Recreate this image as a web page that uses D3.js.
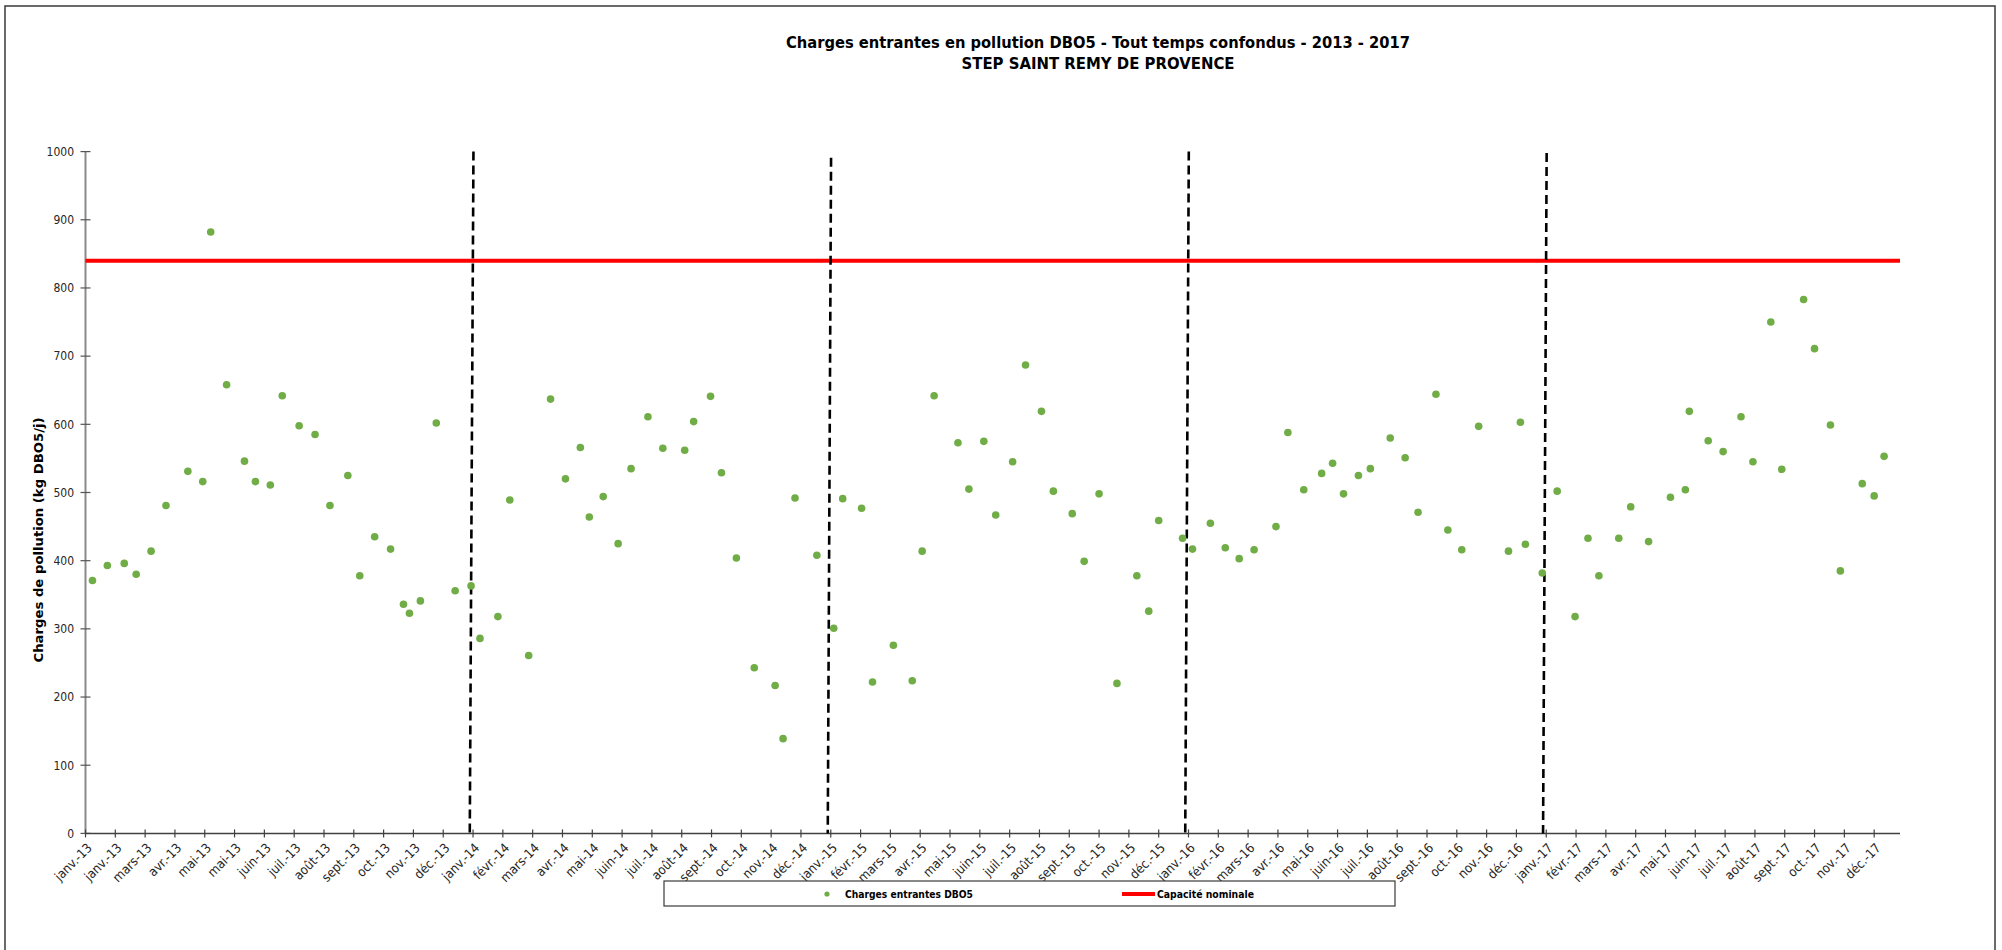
<!DOCTYPE html>
<html>
<head>
<meta charset="utf-8">
<script src="https://cdn.jsdelivr.net/npm/d3@7"></script>
<style>
  html, body { margin: 0; padding: 0; background: #fff; }
  svg { display: block; }
  text { font-family: "DejaVu Sans Condensed", "DejaVu Sans", sans-serif; }
</style>
</head>
<body>
<svg id="chart" width="2002" height="950"></svg>
<script>
// ---------------- DATA ----------------
const titleLines = [
  "Charges entrantes en pollution DBO5 - Tout temps confondus - 2013 - 2017",
  "STEP SAINT REMY DE PROVENCE"
];
const yAxisTitle = "Charges de pollution  (kg DBO5/j)";
const seriesName = "Charges entrantes DBO5";
const capacityName = "Capacité nominale";

const sampleDates = [
  "2013-01-08","2013-01-23","2013-02-09","2013-02-21","2013-03-08","2013-03-23","2013-04-14","2013-04-29",
  "2013-05-07","2013-05-23","2013-06-10","2013-06-21","2013-07-06","2013-07-18","2013-08-04","2013-08-20",
  "2013-09-04","2013-09-22","2013-10-04","2013-10-19","2013-11-04","2013-11-17","2013-11-23","2013-12-04",
  "2013-12-20","2014-01-08","2014-01-24",
  "2014-02-02","2014-02-20","2014-03-04","2014-03-23","2014-04-14","2014-04-29","2014-05-14","2014-05-23",
  "2014-06-06","2014-06-21","2014-07-04","2014-07-21","2014-08-05","2014-08-27","2014-09-05","2014-09-22",
  "2014-10-03","2014-10-18","2014-11-05","2014-11-26","2014-12-04","2014-12-16","2015-01-07","2015-01-24",
  "2015-02-02",
  "2015-02-21","2015-03-04","2015-03-25","2015-04-13","2015-04-23","2015-05-05","2015-05-29","2015-06-09",
  "2015-06-24","2015-07-06","2015-07-23","2015-08-05","2015-08-21","2015-09-02","2015-09-21","2015-10-03",
  "2015-10-18","2015-11-05","2015-11-25","2015-12-07","2015-12-17","2016-01-10","2016-01-20","2016-02-07",
  "2016-02-22","2016-03-07","2016-03-22","2016-04-13","2016-04-25","2016-05-11","2016-05-29","2016-06-09",
  "2016-06-20","2016-07-05","2016-07-17","2016-08-06","2016-08-21","2016-09-03","2016-09-21","2016-10-03",
  "2016-10-17","2016-11-03","2016-12-03","2016-12-15","2016-12-20","2017-01-06","2017-01-21","2017-02-08",
  "2017-02-21","2017-03-04","2017-03-24","2017-04-05","2017-04-23","2017-05-15","2017-05-30","2017-06-03",
  "2017-06-22","2017-07-07","2017-07-25","2017-08-06","2017-08-24","2017-09-04","2017-09-26","2017-10-07",
  "2017-10-23","2017-11-02","2017-11-24","2017-12-06","2017-12-16"
];
const dboValues = [
  371,393,396,380,414,481,531,516,
  882,658,546,516,511,642,598,585,
  481,525,378,435,417,336,323,341,
  602,356,363,
  286,318,489,261,637,520,566,464,
  494,425,535,611,565,562,604,641,
  529,404,243,217,139,492,408,301,
  491,
  477,222,276,224,414,642,573,505,
  575,467,545,687,619,502,469,399,
  498,220,378,326,459,433,417,455,
  419,403,416,450,588,504,528,543,
  498,525,535,580,551,471,644,445,
  416,597,414,603,424,382,502,318,
  433,378,433,479,428,493,504,619,
  576,560,611,545,750,534,783,711,
  599,385,513,495,553
];
const capacityValue = 840;

// x-axis: Excel date axis, one label every 30 days from 2013-01-01
const axisStart = "2013-01-01";
const axisEnd = "2018-01-01";
const tickStepDays = 30;
const tickLabels = [
  "janv.-13","janv.-13","mars-13","avr.-13","mai-13","mai-13","juin-13","juil.-13","août-13","sept.-13","oct.-13","nov.-13","déc.-13",
  "janv.-14","févr.-14","mars-14","avr.-14","mai-14","juin-14","juil.-14","août-14","sept.-14","oct.-14","nov.-14","déc.-14",
  "janv.-15","févr.-15","mars-15","avr.-15","mai-15","juin-15","juil.-15","août-15","sept.-15","oct.-15","nov.-15","déc.-15",
  "janv.-16","févr.-16","mars-16","avr.-16","mai-16","juin-16","juil.-16","août-16","sept.-16","oct.-16","nov.-16","déc.-16",
  "janv.-17","févr.-17","mars-17","avr.-17","mai-17","juin-17","juil.-17","août-17","sept.-17","oct.-17","nov.-17","déc.-17"
];
const yTicks = [0,100,200,300,400,500,600,700,800,900,1000];

// year separators (hand-drawn dashed lines): top date, bottom date, top value
const separatorTopDates = ["2014-01-26T10:00","2015-01-21T07:00","2016-01-16T07:00","2017-01-10T10:00"];
const separatorBottomDates = ["2014-01-22T17:00","2015-01-17T23:00","2016-01-12T17:00","2017-01-06T19:00"];
const separatorTopValues = [1000, 991, 1000, 998];

// ---------------- CHART ----------------
const parse = s => new Date(s + (s.length === 10 ? "T00:00:00Z" : ":00Z"));
const svg = d3.select("#chart");
const plot = { left: 85.5, right: 1900, top: 151.6, bottom: 833.4 };

const x = d3.scaleUtc().domain([parse(axisStart), parse(axisEnd)]).range([plot.left, plot.right]);
const y = d3.scaleLinear().domain([0, 1000]).range([plot.bottom, plot.top]);

// outer border
svg.append("rect").attr("x", 5).attr("y", 6).attr("width", 1990).attr("height", 980)
  .attr("fill", "none").attr("stroke", "#3a3a3a").attr("stroke-width", 1.5);

// titles
const titleY = [48, 69];
const titleLen = [624, 273];
titleLines.forEach((t, i) => {
  svg.append("text").attr("x", 1098).attr("y", titleY[i])
    .attr("text-anchor", "middle").attr("font-weight", "bold")
    .attr("font-size", 15).attr("fill", "#000")
    .attr("textLength", titleLen[i]).attr("lengthAdjust", "spacingAndGlyphs")
    .text(t);
});

// y axis
const yAxisG = svg.append("g");
yAxisG.append("line").attr("x1", plot.left).attr("x2", plot.left)
  .attr("y1", y(0)).attr("y2", y(1000)).attr("stroke", "#8a8a8a").attr("stroke-width", 2);
yAxisG.selectAll("line.tick").data(yTicks).enter().append("line")
  .attr("class", "tick")
  .attr("x1", plot.left - 5).attr("x2", plot.left + 5)
  .attr("y1", d => y(d)).attr("y2", d => y(d))
  .attr("stroke", "#555").attr("stroke-width", 1.2);
yAxisG.selectAll("text").data(yTicks).enter().append("text")
  .attr("x", 74).attr("y", d => y(d)).attr("dy", "0.36em")
  .attr("text-anchor", "end").attr("font-size", 12).attr("fill", "#262626")
  .text(d => d);

// y title
svg.append("text")
  .attr("transform", `translate(43, 540) rotate(-90)`)
  .attr("text-anchor", "middle").attr("font-weight", "bold")
  .attr("font-size", 13).attr("fill", "#000")
  .attr("textLength", 245).attr("lengthAdjust", "spacingAndGlyphs")
  .text(yAxisTitle);

// x axis
const tickDates = tickLabels.map((_, i) => d3.utcDay.offset(parse(axisStart), i * tickStepDays));
const xAxisG = svg.append("g");
xAxisG.append("line").attr("x1", plot.left).attr("x2", plot.right)
  .attr("y1", plot.bottom).attr("y2", plot.bottom).attr("stroke", "#404040").attr("stroke-width", 1.5);
xAxisG.selectAll("line.tick").data(tickDates).enter().append("line")
  .attr("class", "tick")
  .attr("x1", d => x(d)).attr("x2", d => x(d))
  .attr("y1", plot.bottom - 4).attr("y2", plot.bottom + 4)
  .attr("stroke", "#404040").attr("stroke-width", 1.2);
xAxisG.selectAll("text").data(tickDates).enter().append("text")
  .attr("transform", d => `translate(${x(d) + 4}, ${plot.bottom + 12}) rotate(-45)`)
  .attr("text-anchor", "end").attr("dy", "0.36em")
  .attr("font-size", 13).attr("fill", "#262626")
  .text((d, i) => tickLabels[i]);

// capacity line
svg.append("line")
  .attr("x1", x(parse(axisStart))).attr("x2", x(parse(axisEnd)))
  .attr("y1", y(capacityValue)).attr("y2", y(capacityValue))
  .attr("stroke", "#ff0000").attr("stroke-width", 4);

// separators
separatorTopDates.forEach((t, i) => {
  svg.append("line")
    .attr("x1", x(parse(t))).attr("y1", y(separatorTopValues[i]))
    .attr("x2", x(parse(separatorBottomDates[i]))).attr("y2", y(0))
    .attr("stroke", "#000").attr("stroke-width", 2.6)
    .attr("stroke-dasharray", "9,5");
});

// points
const pts = sampleDates.map((d, i) => ({ date: parse(d), value: dboValues[i] }));
svg.append("g").selectAll("circle").data(pts).enter().append("circle")
  .attr("cx", d => x(d.date)).attr("cy", d => y(d.value)).attr("r", 3.8)
  .attr("fill", "#70ad47");

// legend
const lg = svg.append("g");
lg.append("rect").attr("x", 664).attr("y", 881).attr("width", 731).attr("height", 25)
  .attr("fill", "#fff").attr("stroke", "#3a3a3a").attr("stroke-width", 1.2);
lg.append("circle").attr("cx", 827).attr("cy", 894).attr("r", 2.6).attr("fill", "#70ad47");
lg.append("text").attr("x", 845).attr("y", 894).attr("dy", "0.36em")
  .attr("font-size", 11).attr("font-weight", "bold").attr("fill", "#000")
  .attr("textLength", 128).attr("lengthAdjust", "spacingAndGlyphs").text(seriesName);
lg.append("line").attr("x1", 1122).attr("x2", 1155).attr("y1", 894).attr("y2", 894)
  .attr("stroke", "#ff0000").attr("stroke-width", 4);
lg.append("text").attr("x", 1157).attr("y", 894).attr("dy", "0.36em")
  .attr("font-size", 11).attr("font-weight", "bold").attr("fill", "#000")
  .attr("textLength", 97).attr("lengthAdjust", "spacingAndGlyphs").text(capacityName);
</script>
</body>
</html>
